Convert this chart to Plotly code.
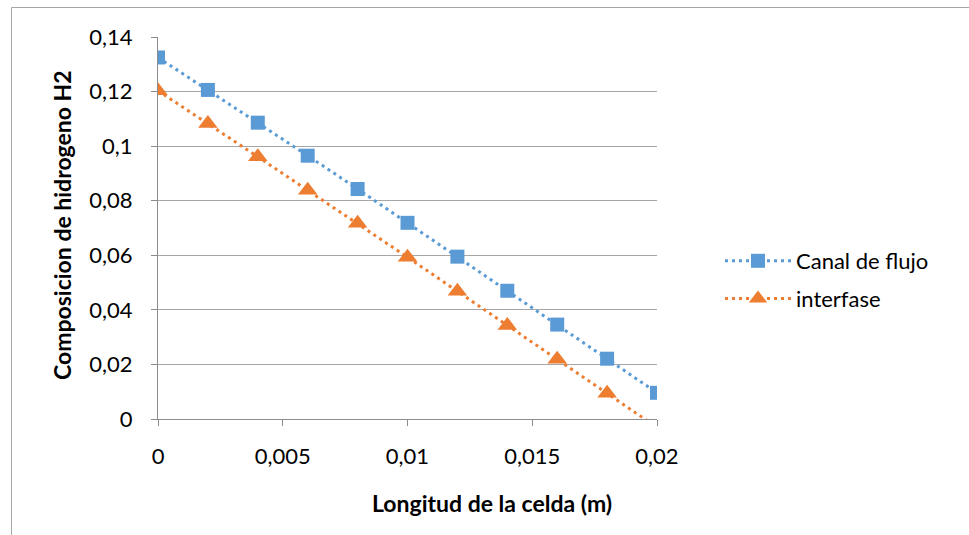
import plotly.graph_objects as go

# Data
x_canal = [0, 0.002, 0.004, 0.006, 0.008, 0.010, 0.012, 0.014, 0.016, 0.018, 0.020]
y_canal = [0.1325, 0.1206, 0.1086, 0.0965, 0.0843, 0.0719, 0.0595, 0.0470, 0.0346, 0.0221, 0.0096]
x_inter = [0, 0.002, 0.004, 0.006, 0.008, 0.010, 0.012, 0.014, 0.016, 0.018, 0.020]
y_inter = [0.1203, 0.1083, 0.0961, 0.0838, 0.0717, 0.0593, 0.0468, 0.0343, 0.0219, 0.0094, -0.0031]

x_tickvals = [0, 0.005, 0.01, 0.015, 0.02]
x_ticktext = ["0", "0,005", "0,01", "0,015", "0,02"]
y_tickvals = [0, 0.02, 0.04, 0.06, 0.08, 0.10, 0.12, 0.14]
y_ticktext = ["0", "0,02", "0,04", "0,06", "0,08", "0,1", "0,12", "0,14"]

BLUE = "#5b9bd5"
ORANGE = "#ed7d31"
FONT = "Lato"

fig = go.Figure()
fig.add_trace(go.Scatter(
    x=x_canal, y=y_canal, name="Canal de flujo", mode="lines+markers",
    line=dict(color=BLUE, width=3, dash="3px,4px"),
    marker=dict(symbol="square", size=14, color=BLUE),
    legendgroup="a",
))
fig.add_trace(go.Scatter(
    x=x_inter, y=y_inter, name="interfase", mode="lines+markers",
    line=dict(color=ORANGE, width=3, dash="3px,4px"),
    marker=dict(symbol="triangle-up", size=17, color=ORANGE),
    legendgroup="b",
))

L, R, T, B = 158, 312, 37, 116
W, H = 969, 535
pw = W - L - R
ph = H - T - B

def px_x(p):
    return (p - L) / pw

def px_y(p):
    return (H - B - p) / ph

fig.update_layout(
    width=W, height=H,
    margin=dict(l=L, r=R, t=T, b=B),
    paper_bgcolor="white", plot_bgcolor="white",
    font=dict(family=FONT, size=22, color="#000000"),
    showlegend=True,
    legend=dict(
        x=px_x(720), y=px_y(240), xanchor="left", yanchor="top",
        font=dict(family=FONT, size=22, color="#000000"),
        tracegroupgap=6, itemwidth=66, bgcolor="rgba(0,0,0,0)",
    ),
    xaxis=dict(
        range=[0, 0.02], tickvals=x_tickvals, ticktext=x_ticktext,
        showgrid=False, zeroline=False, showline=True, linecolor="#8c8c8c", linewidth=1,
        ticks="outside", ticklen=6, tickcolor="#8c8c8c", ticklabelstandoff=12,
        tickfont=dict(family=FONT, size=22, color="#000000"),
    ),
    yaxis=dict(
        range=[0, 0.14], tickvals=y_tickvals, ticktext=y_ticktext,
        showgrid=True, gridcolor="#a6a6a6", gridwidth=1,
        zeroline=False, showline=True, linecolor="#8c8c8c", linewidth=1,
        ticks="outside", ticklen=6, tickcolor="#8c8c8c", ticklabelstandoff=14,
        tickfont=dict(family=FONT, size=22, color="#000000"),
    ),
    annotations=[
        dict(text="<b>Longitud de la celda (m)</b>", xref="paper", yref="paper",
             x=px_x(492), y=px_y(503), xanchor="center", yanchor="middle",
             showarrow=False, font=dict(family=FONT, size=23, color="#000000")),
        dict(text="<b>Composicion de hidrogeno H2</b>", xref="paper", yref="paper",
             x=px_x(62), y=px_y(225), xanchor="center", yanchor="middle", textangle=-90,
             showarrow=False, font=dict(family=FONT, size=23, color="#000000")),
    ],
    shapes=[
        dict(type="rect", xref="paper", yref="paper",
             x0=px_x(11.5), y0=px_y(7.5), x1=px_x(1100), y1=px_y(700),
             line=dict(color="#a6a6a6", width=1), fillcolor="rgba(0,0,0,0)", layer="below"),
    ],
)

fig.write_html("out.html")
